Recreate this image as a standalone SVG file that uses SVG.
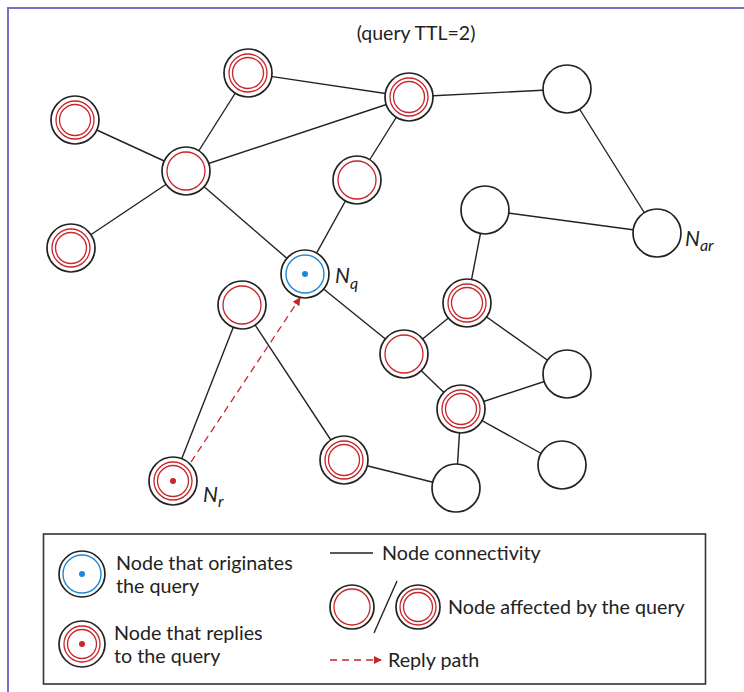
<svg xmlns="http://www.w3.org/2000/svg" width="744" height="692" viewBox="0 0 744 692">
<defs>
<style>
.frame{fill:none;stroke:#7b6fc4;stroke-width:2}
.edge{stroke:#222;stroke-width:1.4;fill:none}
.ob{fill:#fff;stroke:#222;stroke-width:1.7}
.rr{fill:none;stroke:#c9252b;stroke-width:1.3}
.br{fill:none;stroke:#1a8ad4;stroke-width:1.4}
.txt{font-family:Lato,"Liberation Sans",sans-serif;fill:#222}
.lbl{font-family:Lato,"Liberation Sans",sans-serif;font-style:italic;fill:#222}
.reply{stroke:#c9252b;stroke-width:1.3;stroke-dasharray:7 5;fill:none}
</style>
<marker id="arr" viewBox="0 0 10 10" refX="9" refY="5" markerWidth="8" markerHeight="8" orient="auto" markerUnits="userSpaceOnUse">
<path d="M0,0 L10,5 L0,10 z" fill="#c9252b"/>
</marker>
</defs>
<rect width="744" height="692" fill="#fff"/>
<path class="frame" d="M8,692 V8 H744"/>
<text class="txt" x="416" y="40" font-size="19.5" text-anchor="middle">(query TTL=2)</text>
<g id="connectors">
<line class="edge" x1="75" y1="120" x2="186" y2="171"/>
<line class="edge" x1="71" y1="248" x2="186" y2="171"/>
<line class="edge" x1="248" y1="73" x2="186" y2="171"/>
<line class="edge" x1="186" y1="171" x2="409" y2="97"/>
<line class="edge" x1="186" y1="171" x2="305" y2="274"/>
<line class="edge" x1="248" y1="73" x2="409" y2="97"/>
<line class="edge" x1="409" y1="97" x2="567" y2="89"/>
<line class="edge" x1="409" y1="97" x2="357" y2="180"/>
<line class="edge" x1="357" y1="180" x2="305" y2="274"/>
<line class="edge" x1="567" y1="89" x2="657" y2="233"/>
<line class="edge" x1="485" y1="210" x2="657" y2="233"/>
<line class="edge" x1="485" y1="210" x2="467" y2="303"/>
<line class="edge" x1="467" y1="303" x2="404" y2="354"/>
<line class="edge" x1="467" y1="303" x2="567" y2="374"/>
<line class="edge" x1="305" y1="274" x2="404" y2="354"/>
<line class="edge" x1="404" y1="354" x2="461" y2="409"/>
<line class="edge" x1="461" y1="409" x2="567" y2="374"/>
<line class="edge" x1="461" y1="409" x2="456" y2="488"/>
<line class="edge" x1="461" y1="409" x2="562" y2="465"/>
<line class="edge" x1="456" y1="488" x2="344" y2="460"/>
<line class="edge" x1="344" y1="460" x2="242" y2="305"/>
<line class="edge" x1="242" y1="305" x2="173" y2="481"/>
<line class="reply" x1="191" y1="462" x2="300" y2="298" marker-end="url(#arr)"/>
</g>
<g id="n1"><circle class="ob" cx="75" cy="120" r="24"/><circle class="rr" cx="75" cy="120" r="19"/><circle class="rr" cx="75" cy="120" r="15.5"/></g>
<g id="n2"><circle class="ob" cx="186" cy="171" r="24"/><circle class="rr" cx="186" cy="171" r="19"/></g>
<g id="n3"><circle class="ob" cx="71" cy="248" r="24"/><circle class="rr" cx="71" cy="248" r="19"/><circle class="rr" cx="71" cy="248" r="15.5"/></g>
<g id="n4"><circle class="ob" cx="248" cy="73" r="24"/><circle class="rr" cx="248" cy="73" r="19"/><circle class="rr" cx="248" cy="73" r="15.5"/></g>
<g id="n5"><circle class="ob" cx="409" cy="97" r="24"/><circle class="rr" cx="409" cy="97" r="19"/><circle class="rr" cx="409" cy="97" r="15.5"/></g>
<g id="n6"><circle class="ob" cx="567" cy="89" r="24"/></g>
<g id="n7"><circle class="ob" cx="357" cy="180" r="24"/><circle class="rr" cx="357" cy="180" r="19"/></g>
<g id="nq"><circle class="ob" cx="305" cy="274" r="24"/><circle class="br" cx="305" cy="274" r="19"/><circle cx="305" cy="274" r="3" fill="#1a8ad4"/>
<text class="lbl" x="335" y="283" font-size="21">N<tspan font-size="16" dy="6">q</tspan></text></g>
<g id="n9"><circle class="ob" cx="242" cy="305" r="24"/><circle class="rr" cx="242" cy="305" r="19"/></g>
<g id="nr"><circle class="ob" cx="173" cy="481" r="24"/><circle class="rr" cx="173" cy="481" r="19"/><circle class="rr" cx="173" cy="481" r="15.5"/><circle cx="173" cy="481" r="3" fill="#c9252b"/>
<text class="lbl" x="203" y="502" font-size="21">N<tspan font-size="16" dy="5">r</tspan></text></g>
<g id="n11"><circle class="ob" cx="344" cy="460" r="24"/><circle class="rr" cx="344" cy="460" r="19"/><circle class="rr" cx="344" cy="460" r="15.5"/></g>
<g id="n12"><circle class="ob" cx="404" cy="354" r="24"/><circle class="rr" cx="404" cy="354" r="19"/></g>
<g id="n13"><circle class="ob" cx="467" cy="303" r="24"/><circle class="rr" cx="467" cy="303" r="19"/><circle class="rr" cx="467" cy="303" r="15.5"/></g>
<g id="n14"><circle class="ob" cx="485" cy="210" r="24"/></g>
<g id="nar"><circle class="ob" cx="657" cy="233" r="24"/>
<text class="lbl" x="685" y="246" font-size="21">N<tspan font-size="16" dy="5">ar</tspan></text></g>
<g id="n16"><circle class="ob" cx="567" cy="374" r="24"/></g>
<g id="n17"><circle class="ob" cx="461" cy="409" r="24"/><circle class="rr" cx="461" cy="409" r="19"/><circle class="rr" cx="461" cy="409" r="15.5"/></g>
<g id="n18"><circle class="ob" cx="456" cy="488" r="24"/></g>
<g id="n19"><circle class="ob" cx="562" cy="465" r="24"/></g>
<g id="legend">
<rect x="43.5" y="534" width="662" height="150" fill="#fff" stroke="#333" stroke-width="1.6"/>
<circle class="ob" cx="82" cy="574" r="23"/><circle class="br" cx="82" cy="574" r="19"/><circle cx="82" cy="574" r="3" fill="#1a8ad4"/>
<text class="txt" x="116" y="570" font-size="19.7">Node that originates</text>
<text class="txt" x="116" y="593" font-size="19.7">the query</text>
<circle class="ob" cx="82" cy="644" r="23"/><circle class="rr" cx="82" cy="644" r="18"/><circle class="rr" cx="82" cy="644" r="14.5"/><circle cx="82" cy="644" r="3" fill="#c9252b"/>
<text class="txt" x="114" y="640" font-size="19.7">Node that replies</text>
<text class="txt" x="114" y="663" font-size="19.7">to the query</text>
<line class="edge" x1="330" y1="553" x2="373" y2="553"/>
<text class="txt" x="382" y="560" font-size="19.7">Node connectivity</text>
<circle class="ob" cx="352" cy="607" r="22"/><circle class="rr" cx="352" cy="607" r="18"/>
<line class="edge" x1="397" y1="581" x2="374" y2="633"/>
<circle class="ob" cx="418" cy="607" r="22"/><circle class="rr" cx="418" cy="607" r="18"/><circle class="rr" cx="418" cy="607" r="14.5"/>
<text class="txt" x="448" y="614" font-size="19.7">Node affected by the query</text>
<line class="reply" x1="330" y1="660" x2="381" y2="660" marker-end="url(#arr)"/>
<text class="txt" x="388" y="667" font-size="19.7">Reply path</text>
</g>
</svg>
